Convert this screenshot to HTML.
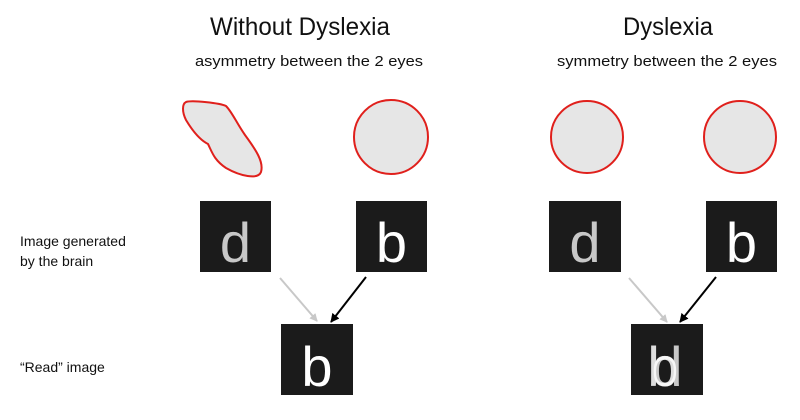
<!DOCTYPE html>
<html><head><meta charset="utf-8"><style>
html,body{margin:0;padding:0;background:#fff;}
svg{display:block;}
text{font-family:"Liberation Sans",sans-serif;}
</style></head><body>
<svg width="800" height="420" viewBox="0 0 800 420" xmlns="http://www.w3.org/2000/svg">
<defs>
<marker id="ag" markerWidth="8" markerHeight="8" refX="7" refY="4" orient="auto" markerUnits="userSpaceOnUse"><path d="M0,0 L8,4 L0,8 Z" fill="#c8c8c8"/></marker>
<marker id="ab" markerWidth="9" markerHeight="9" refX="8" refY="4.5" orient="auto" markerUnits="userSpaceOnUse"><path d="M0,0 L9,4.5 L0,9 Z" fill="#000"/></marker>
</defs>
<text x="210" y="35" font-size="25" textLength="180" lengthAdjust="spacingAndGlyphs" fill="#111">Without Dyslexia</text>
<text x="195" y="66" font-size="15" textLength="228" lengthAdjust="spacingAndGlyphs" fill="#111">asymmetry between the 2 eyes</text>
<text x="623" y="35" font-size="25" textLength="90" lengthAdjust="spacingAndGlyphs" fill="#111">Dyslexia</text>
<text x="557" y="66" font-size="15" textLength="220" lengthAdjust="spacingAndGlyphs" fill="#111">symmetry between the 2 eyes</text>
<text x="20" y="246" font-size="14" fill="#111">Image generated</text>
<text x="20" y="266" font-size="14" fill="#111">by the brain</text>
<text x="20" y="372" font-size="14" fill="#111">“Read” image</text>

<path d="M186,102 C192,100 220,103 226,106 C232,112 236,122 245,135 C256,150 264,162 261,172 C258,180 240,176 226,168 C214,160 212,152 208,144 C200,140 192,130 186,120 C182,112 182,104 186,102 Z" fill="#e6e6e6" stroke="#e0201c" stroke-width="2"/>
<circle cx="391" cy="137" r="37" fill="#e6e6e6" stroke="#e0201c" stroke-width="2"/>
<circle cx="587" cy="137" r="36" fill="#e6e6e6" stroke="#e0201c" stroke-width="2"/>
<circle cx="740" cy="137" r="36" fill="#e6e6e6" stroke="#e0201c" stroke-width="2"/>

<rect x="200" y="201" width="71" height="71" fill="#1b1b1b"/>
<text x="235.5" y="262" font-size="56" text-anchor="middle" fill="#c8c8c8">d</text>
<rect x="356" y="201" width="71" height="71" fill="#1b1b1b"/>
<text x="391.5" y="262" font-size="56" text-anchor="middle" fill="#fff">b</text>
<rect x="281" y="324" width="72" height="71" fill="#1b1b1b"/>
<text x="317" y="386" font-size="56" text-anchor="middle" fill="#fff">b</text>

<rect x="549" y="201" width="72" height="71" fill="#1b1b1b"/>
<text x="585" y="262" font-size="56" text-anchor="middle" fill="#c8c8c8">d</text>
<rect x="706" y="201" width="71" height="71" fill="#1b1b1b"/>
<text x="741.5" y="262" font-size="56" text-anchor="middle" fill="#fff">b</text>
<rect x="631" y="324" width="72" height="71" fill="#1b1b1b"/>
<text x="667" y="386" font-size="56" text-anchor="middle" fill="#c8c8c8">d</text>
<text x="663" y="386" font-size="56" text-anchor="middle" fill="#fff" fill-opacity="0.85">b</text>

<line x1="280" y1="278" x2="317" y2="321" stroke="#c8c8c8" stroke-width="2" marker-end="url(#ag)"/>
<line x1="366" y1="277" x2="331" y2="322" stroke="#000" stroke-width="2" marker-end="url(#ab)"/>
<line x1="629" y1="278" x2="667" y2="322" stroke="#c8c8c8" stroke-width="2" marker-end="url(#ag)"/>
<line x1="716" y1="277" x2="680" y2="322" stroke="#000" stroke-width="2" marker-end="url(#ab)"/>
</svg>
</body></html>
